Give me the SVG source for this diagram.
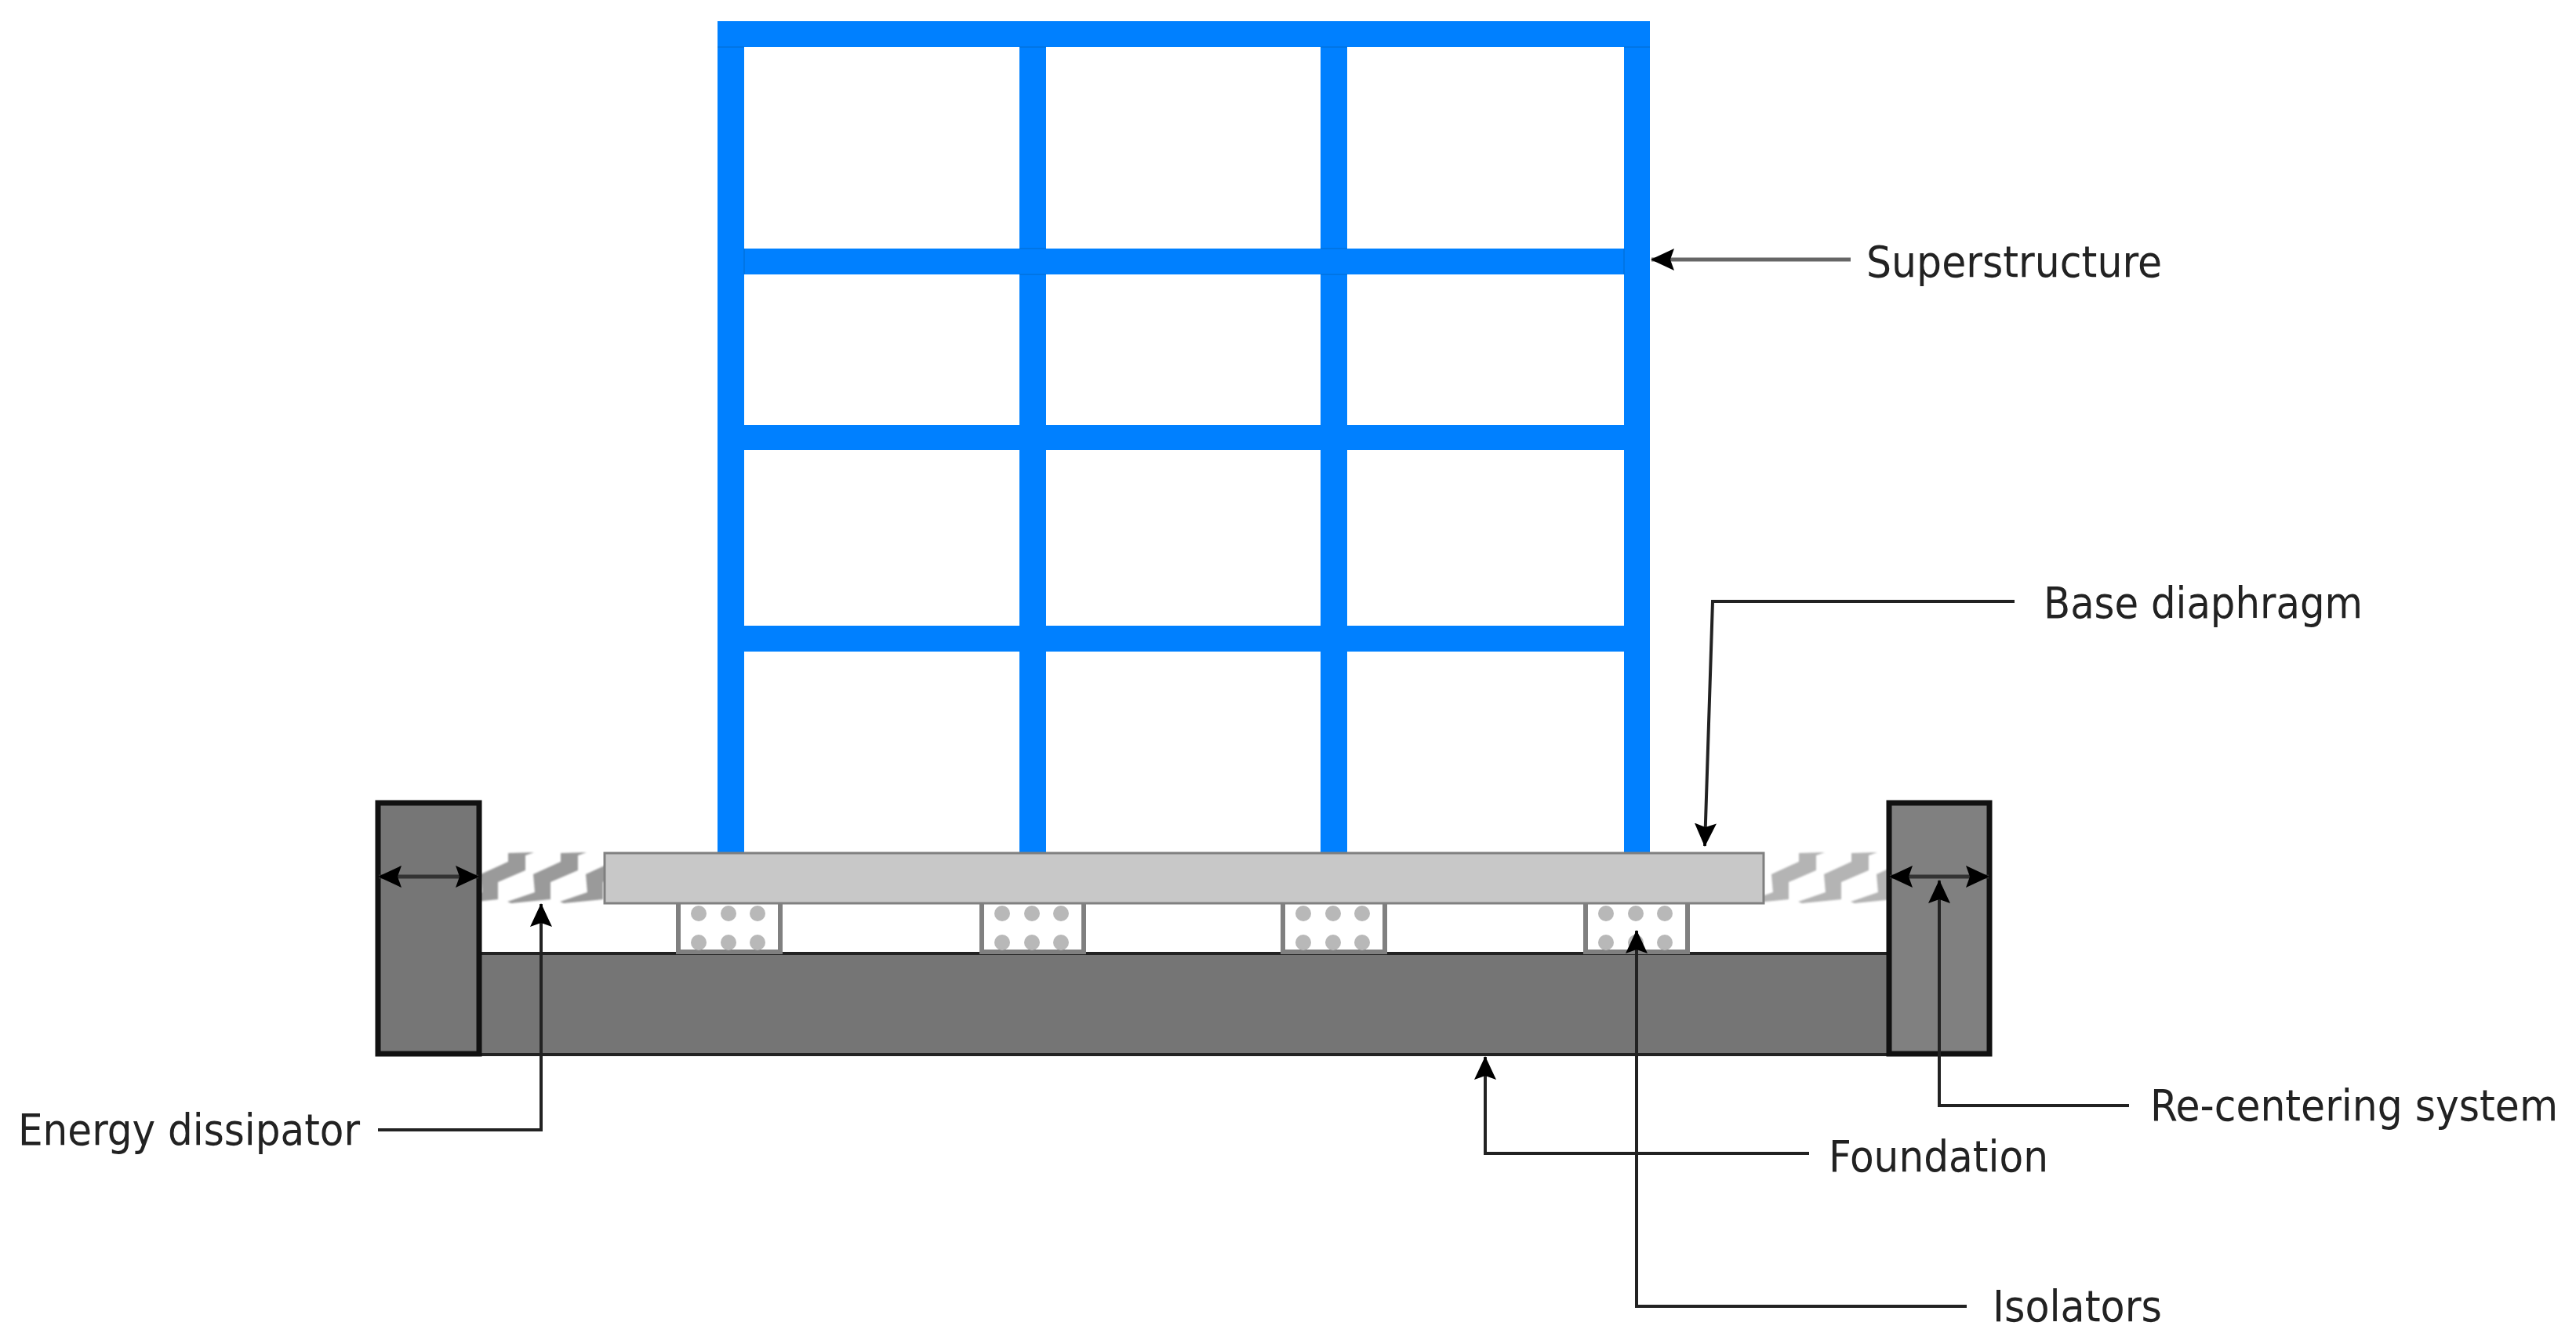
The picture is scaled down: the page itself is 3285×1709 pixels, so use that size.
<svg xmlns="http://www.w3.org/2000/svg" xmlns:xlink="http://www.w3.org/1999/xlink" width="3285" height="1709" viewBox="0 0 3285 1709">
<style>
.b{fill:#0080ff}
.lbl{font-family:"DejaVu Sans","Liberation Sans",sans-serif;font-size:55px;fill:#222;font-stretch:condensed}
.pier{stroke:#111;stroke-width:7}
.iso{fill:#fff;stroke:#808080;stroke-width:6}
.dot{fill:#b8b8b8}
.ln{fill:none;stroke:#222;stroke-width:4}
</style>
<defs>
<marker id="ah" viewBox="0 0 30 30" refX="29" refY="15" markerWidth="30" markerHeight="30" markerUnits="userSpaceOnUse" orient="auto-start-reverse"><path d="M30 15 L0 1 L5 15 L0 29 Z" fill="#000"/></marker>
<polygon id="spr" points="715,1088 748,1087 737,1091 737,1110 702,1125 702,1147 652,1152 647,1150 682,1138 680,1115 715,1099"/>
<g id="isoU"><path class="iso" d="M-65,1152V1214H65V1152"/>
<circle class="dot" cx="-39" cy="1165" r="10"/><circle class="dot" cx="-1" cy="1165" r="10"/><circle class="dot" cx="36" cy="1165" r="10"/><circle class="dot" cx="-39" cy="1202" r="10"/><circle class="dot" cx="-1" cy="1202" r="10"/><circle class="dot" cx="36" cy="1202" r="10"/></g>
<clipPath id="cl"><rect x="614" y="1080" width="156" height="80"/></clipPath>
<clipPath id="cr"><rect x="2249" y="1080" width="157" height="80"/></clipPath>
<filter id="soft" x="-5%" y="-5%" width="110%" height="110%"><feGaussianBlur stdDeviation="1"/></filter>
</defs>
<rect width="3285" height="1709" fill="#fff"/>
<g id="foundation"><rect x="612" y="1216" width="1796" height="129" fill="#757575" stroke="#222" stroke-width="4"/></g>
<g id="superstructure">
<rect class="b" x="915" y="27" width="34" height="1060"/><rect class="b" x="1300" y="27" width="34" height="1060"/><rect class="b" x="1684" y="27" width="34" height="1060"/><rect class="b" x="2071" y="27" width="33" height="1060"/>
<rect class="b" x="915" y="27" width="1189" height="33"/><rect class="b" x="915" y="317" width="1189" height="33"/><rect class="b" x="915" y="542" width="1189" height="32"/><rect class="b" x="915" y="798" width="1189" height="33"/>
<path fill="none" stroke="#0068c8" stroke-width="2" stroke-opacity=".45" d="M915,60H949M1300,60H1334M1684,60H1718M2071,60H2104M949,317V350M2071,317V350M1300,317H1334M1300,350H1334M1684,317H1718M1684,350H1718"/>
</g>
<g id="energy-dissipator-left" clip-path="url(#cl)"><g filter="url(#soft)" fill="#9a9a9a"><use xlink:href="#spr" href="#spr" x="-67"/><use xlink:href="#spr" href="#spr"/><use xlink:href="#spr" href="#spr" x="67"/></g></g>
<g id="energy-dissipator-right" clip-path="url(#cr)"><g filter="url(#soft)" fill="#b4b4b4"><use xlink:href="#spr" href="#spr" x="1579"/><use xlink:href="#spr" href="#spr" x="1646"/><use xlink:href="#spr" href="#spr" x="1713"/></g></g>
<g id="isolators"><use href="#isoU" x="930"/><use href="#isoU" x="1317"/><use href="#isoU" x="1701"/><use href="#isoU" x="2087"/></g>
<g id="base-diaphragm"><rect x="771" y="1088" width="1478" height="64" fill="#c8c8c8" stroke="#808080" stroke-width="3"/></g>
<g id="pier-left"><rect class="pier" x="482" y="1024" width="129" height="320" fill="#767676"/></g>
<g id="pier-right"><rect class="pier" x="2409" y="1024" width="128" height="320" fill="#808080"/></g>
<g id="connectors">
<path class="ln" d="M483,1118H610" marker-start="url(#ah)" marker-end="url(#ah)" style="stroke:#333;stroke-width:5"/>
<path class="ln" d="M2410,1118H2536" marker-start="url(#ah)" marker-end="url(#ah)" style="stroke:#333;stroke-width:5"/>
<path class="ln" style="stroke:#666;stroke-width:5" d="M2360,331H2106" marker-end="url(#ah)"/>
<path class="ln" d="M2569,767H2184L2174,1079" marker-end="url(#ah)"/>
<path class="ln" d="M482,1441H690V1153" marker-end="url(#ah)"/>
<path class="ln" d="M2307,1471H1894V1348" marker-end="url(#ah)"/>
<path class="ln" d="M2508,1666H2087V1187" marker-end="url(#ah)"/>
<path class="ln" d="M2715,1410H2473V1123" marker-end="url(#ah)"/>
</g>
<g id="labels">
<text class="lbl" x="2380" y="353" textLength="377" lengthAdjust="spacingAndGlyphs">Superstructure</text>
<text class="lbl" x="2606" y="788" textLength="407" lengthAdjust="spacingAndGlyphs">Base diaphragm</text>
<text class="lbl" x="2742" y="1429" textLength="520" lengthAdjust="spacingAndGlyphs">Re-centering system</text>
<text class="lbl" x="2332" y="1494" textLength="280" lengthAdjust="spacingAndGlyphs">Foundation</text>
<text class="lbl" x="2541" y="1685" textLength="216" lengthAdjust="spacingAndGlyphs">Isolators</text>
<text class="lbl" x="23" y="1460" textLength="436" lengthAdjust="spacingAndGlyphs">Energy dissipator</text>
</g>
</svg>
